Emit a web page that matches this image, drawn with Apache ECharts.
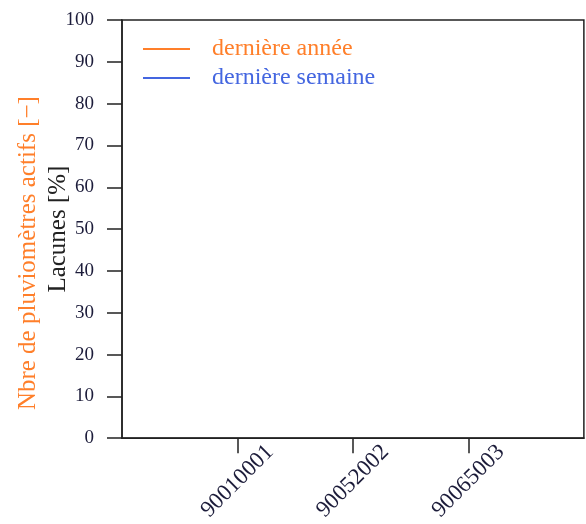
<!DOCTYPE html>
<html>
<head>
<meta charset="utf-8">
<script src="https://cdn.jsdelivr.net/npm/echarts@6/dist/echarts.min.js"></script>
<style>
html,body{margin:0;padding:0;background:#fff;}
#c{width:586px;height:524px;}
</style>
</head>
<body>
<div id="c"></div>
<script>
var categories = ['', '90010001', '90052002', '90065003', ''];
var seriesNames = ['dernière année', 'dernière semaine'];
var seriesColors = ['#ff7f2a', '#4466e0'];
var lastYear = [];
var lastWeek = [];
var yMin = 0, yMax = 100, yInterval = 10;

var chart = echarts.init(document.getElementById('c'), null, {renderer: 'canvas'});
var serif = 'Liberation Serif';
chart.setOption({
  animation: false,
  backgroundColor: '#fff',
  grid: {left: 122, top: 20, right: 2, bottom: 83, show: true, borderColor: '#222', borderWidth: 1.5, backgroundColor: 'transparent'},
  legend: {
    orient: 'vertical', left: 138, top: 32, itemWidth: 47, itemHeight: 2, itemGap: 5,
    icon: 'rect',
    textStyle: {fontFamily: serif, fontSize: 24, padding: [0, 0, 0, 17]},
    data: [
      {name: seriesNames[0], textStyle: {color: seriesColors[0]}},
      {name: seriesNames[1], textStyle: {color: seriesColors[1]}}
    ]
  },
  xAxis: {
    type: 'category', data: categories, boundaryGap: false,
    axisLine: {lineStyle: {color: '#222', width: 1.5}},
    axisTick: {length: 15, lineStyle: {color: '#222', width: 1.5}, interval: function (i, v) { return v !== ''; }},
    axisLabel: {interval: 0, rotate: 45, align: 'center', verticalAlign: 'middle', margin: 43,
      fontFamily: serif, fontSize: 23, color: '#1c1c3a'}
  },
  yAxis: [{
    type: 'value', min: yMin, max: yMax, interval: yInterval, position: 'left',
    name: 'Lacunes [%]', nameLocation: 'middle', nameGap: 51, nameMoveOverlap: false,
    nameTextStyle: {fontFamily: serif, fontSize: 25, color: '#222'},
    axisLine: {show: true, lineStyle: {color: '#222', width: 1.5}},
    axisTick: {show: true, length: 15, lineStyle: {color: '#222', width: 1.5}},
    axisLabel: {fontFamily: serif, fontSize: 19, color: '#1c1c3a', margin: 28},
    splitLine: {show: false}
  }, {
    type: 'value', min: yMin, max: yMax, position: 'left',
    name: 'Nbre de pluviomètres actifs [−]', nameLocation: 'middle', nameGap: 81, nameMoveOverlap: false,
    nameTextStyle: {fontFamily: serif, fontSize: 25, color: '#ff7f2a', padding: [0, 48, 0, 0]},
    axisLine: {show: false}, axisTick: {show: false}, axisLabel: {show: false}, splitLine: {show: false}
  }],
  series: [
    {name: seriesNames[0], type: 'line', data: lastYear, symbol: 'none', color: seriesColors[0], lineStyle: {width: 1.5}},
    {name: seriesNames[1], type: 'line', data: lastWeek, symbol: 'none', color: seriesColors[1], lineStyle: {width: 1.5}}
  ]
});
</script>
</body>
</html>
